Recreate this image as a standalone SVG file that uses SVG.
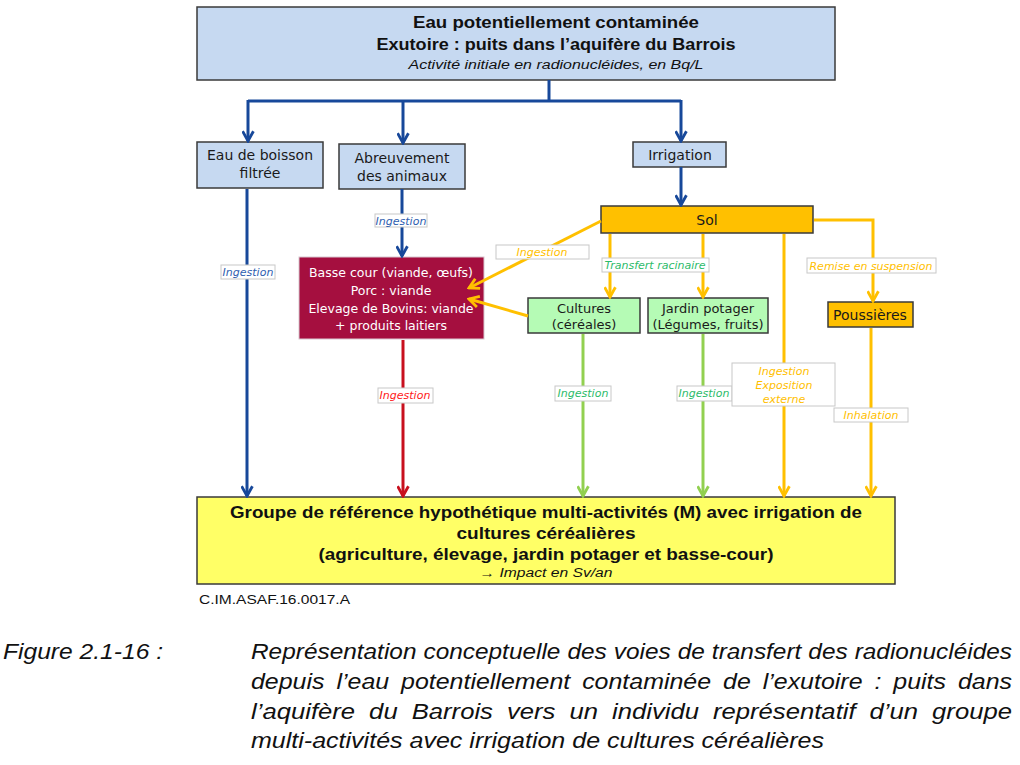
<svg xmlns="http://www.w3.org/2000/svg" width="1020" height="765" viewBox="0 0 1020 765">
<style>
.bg{fill:#ffffff}
.box{stroke:#3a3a3a;stroke-width:1.5}
.blue{fill:#c6d9f1}
.red{fill:#a50f3f}
.sol{fill:#ffc000}
.grn{fill:#b5fbb5}
.grp{fill:#ffff66}
.t{font-family:"DejaVu Sans",sans-serif;font-size:14px;fill:#1a1a1a;text-anchor:middle}
.tg{font-size:13px}
.tw{fill:#ffffff;font-size:12.5px}
.h{font-family:"Liberation Sans",sans-serif;font-weight:bold;font-size:16px;fill:#111;text-anchor:middle}
.hi{font-family:"Liberation Sans",sans-serif;font-style:italic;font-size:12px;fill:#111;text-anchor:middle}
.lb{fill:#ffffff;stroke:#c8c8c8;stroke-width:1}
.l{font-family:"DejaVu Sans",sans-serif;font-style:italic;font-size:11px;text-anchor:middle}
.cb{fill:#3060b0}.cy{fill:#ffc000}.cg{fill:#2dbb6a}.cr{fill:#ff2020}
.cap{font-family:"Liberation Sans",sans-serif;font-style:italic;font-size:22px;fill:#111}
.eb{fill:none;stroke:#17489a;stroke-width:3}
.er{fill:none;stroke:#c8101e;stroke-width:3}
.ey{fill:none;stroke:#ffc000;stroke-width:3}
.eg{fill:none;stroke:#92d050;stroke-width:3}
</style>
<defs>
<marker id="ab" viewBox="0 0 12 12" refX="10.5" refY="6" markerWidth="13" markerHeight="13" markerUnits="userSpaceOnUse" orient="auto"><path d="M1.5,1 L10.5,6 L1.5,11" fill="none" stroke="#17489a" stroke-width="2.6"/></marker>
<marker id="ar" viewBox="0 0 12 12" refX="10.5" refY="6" markerWidth="13" markerHeight="13" markerUnits="userSpaceOnUse" orient="auto"><path d="M1.5,1 L10.5,6 L1.5,11" fill="none" stroke="#c8101e" stroke-width="2.6"/></marker>
<marker id="ay" viewBox="0 0 12 12" refX="10.5" refY="6" markerWidth="13" markerHeight="13" markerUnits="userSpaceOnUse" orient="auto"><path d="M1.5,1 L10.5,6 L1.5,11" fill="none" stroke="#ffc000" stroke-width="2.6"/></marker>
<marker id="ag" viewBox="0 0 12 12" refX="10.5" refY="6" markerWidth="13" markerHeight="13" markerUnits="userSpaceOnUse" orient="auto"><path d="M1.5,1 L10.5,6 L1.5,11" fill="none" stroke="#92d050" stroke-width="2.6"/></marker>
</defs>
<rect class="bg" x="0" y="0" width="1020" height="765"/>

<g id="source">
<rect class="box blue" x="197" y="7" width="638" height="73"/>
<text class="h" x="556" y="28" textLength="286" lengthAdjust="spacingAndGlyphs">Eau potentiellement contaminée</text>
<text class="h" x="556" y="50" textLength="359" lengthAdjust="spacingAndGlyphs">Exutoire : puits dans l’aquifère du Barrois</text>
<text class="hi" x="556" y="69" textLength="295" lengthAdjust="spacingAndGlyphs">Activité initiale en radionucléides, en Bq/L</text>
</g>

<g id="eau-boisson">
<rect class="box blue" x="197" y="142" width="126" height="46"/>
<text class="t" x="260" y="160">Eau de boisson</text>
<text class="t" x="260" y="178">filtrée</text>
</g>

<g id="abreuvement">
<rect class="box blue" x="339" y="144" width="126" height="45"/>
<text class="t" x="402" y="163">Abreuvement</text>
<text class="t" x="402" y="181">des animaux</text>
</g>

<g id="irrigation">
<rect class="box blue" x="633" y="142" width="93" height="25"/>
<text class="t" x="680" y="160">Irrigation</text>
</g>

<g id="sol">
<rect class="box sol" x="601" y="206" width="212" height="27"/>
<text class="t" x="707" y="225">Sol</text>
</g>

<g id="basse-cour">
<rect x="299" y="257" width="185" height="82" class="red" stroke="#d8c8d0" stroke-width="1"/>
<text class="t tw" x="391" y="277">Basse cour (viande, œufs)</text>
<text class="t tw" x="391" y="295">Porc : viande</text>
<text class="t tw" x="391" y="313">Elevage de Bovins: viande</text>
<text class="t tw" x="391" y="330">+ produits laitiers</text>
</g>

<g id="cultures">
<rect class="box grn" x="528" y="298" width="112" height="35"/>
<text class="t tg" x="584" y="313">Cultures</text>
<text class="t tg" x="584" y="329">(céréales)</text>
</g>

<g id="jardin">
<rect class="box grn" x="648" y="298" width="120" height="35"/>
<text class="t tg" x="708" y="313">Jardin potager</text>
<text class="t tg" x="708" y="329">(Légumes, fruits)</text>
</g>

<g id="poussieres">
<rect class="box sol" x="828" y="302" width="85" height="25"/>
<text class="t" x="870" y="320" font-size="13.5">Poussières</text>
</g>

<g id="groupe">
<rect class="box grp" x="197" y="497" width="698" height="87"/>
<text class="h" x="546" y="518" font-size="17" textLength="632" lengthAdjust="spacingAndGlyphs">Groupe de référence hypothétique multi-activités (M) avec irrigation de</text>
<text class="h" x="546" y="539" font-size="17" textLength="179" lengthAdjust="spacingAndGlyphs">cultures céréalières</text>
<text class="h" x="546" y="560" font-size="17" textLength="455" lengthAdjust="spacingAndGlyphs">(agriculture, élevage, jardin potager et basse-cour)</text>
<text class="hi" x="546" y="577" font-size="13" textLength="133" lengthAdjust="spacingAndGlyphs">→ Impact en Sv/an</text>
</g>

<g id="connectors">
<path class="eb" d="M549,80 V101"/>
<path class="eb" d="M248,101 H681"/>
<path class="eb" d="M248,100 V141" marker-end="url(#ab)"/>
<path class="eb" d="M403,100 V143" marker-end="url(#ab)"/>
<path class="eb" d="M681,100 V141" marker-end="url(#ab)"/>
<path class="eb" d="M681,167 V205" marker-end="url(#ab)"/>
<path class="eb" d="M247,189 V496" marker-end="url(#ab)"/>
<path class="eb" d="M402,189 V256" marker-end="url(#ab)"/>
<path class="er" d="M403,340 V496" marker-end="url(#ar)"/>
<path class="ey" d="M601,221 L469,288" marker-end="url(#ay)"/>
<path class="ey" d="M528,316 L469,299" marker-end="url(#ay)"/>
<path class="ey" d="M610,234 V297" marker-end="url(#ay)"/>
<path class="ey" d="M703,234 V297" marker-end="url(#ay)"/>
<path class="ey" d="M784,234 V496" marker-end="url(#ay)"/>
<path class="ey" d="M814,220 H873 V301" marker-end="url(#ay)"/>
<path class="ey" d="M871,328 V496" marker-end="url(#ay)"/>
<path class="eg" d="M583,334 V496" marker-end="url(#ag)"/>
<path class="eg" d="M703,334 V496" marker-end="url(#ag)"/>
</g>

<g id="labels">
<rect class="lb" x="221" y="265" width="54" height="14"/><text class="l cb" x="248" y="276">Ingestion</text>
<rect class="lb" x="375" y="214" width="52" height="13"/><text class="l cb" x="401" y="225">Ingestion</text>
<rect class="lb" x="496" y="245" width="93" height="14"/><text class="l cy" x="542" y="256">Ingestion</text>
<rect class="lb" x="602" y="258" width="107" height="14"/><text class="l cg" x="655" y="269">Transfert racinaire</text>
<rect class="lb" x="807" y="258" width="129" height="15"/><text class="l cy" x="871" y="270">Remise en suspension</text>
<rect class="lb" x="378" y="388" width="55" height="15"/><text class="l cr" x="405" y="399">Ingestion</text>
<rect class="lb" x="555" y="386" width="56" height="15"/><text class="l cg" x="583" y="397">Ingestion</text>
<rect class="lb" x="677" y="386" width="55" height="15"/><text class="l cg" x="704" y="397">Ingestion</text>
<rect class="lb" x="732" y="363" width="103" height="43"/>
<text class="l cy" x="784" y="375">Ingestion</text>
<text class="l cy" x="784" y="389">Exposition</text>
<text class="l cy" x="784" y="403">externe</text>
<rect class="lb" x="834" y="408" width="74" height="14"/><text class="l cy" x="871" y="419">Inhalation</text>
</g>

<text x="199" y="604" font-family="Liberation Sans, sans-serif" font-size="12.5" fill="#111" textLength="151" lengthAdjust="spacingAndGlyphs">C.IM.ASAF.16.0017.A</text>

<g id="caption">
<text class="cap" x="3" y="659" textLength="160" lengthAdjust="spacingAndGlyphs">Figure 2.1-16 :</text>
<text class="cap" x="251" y="659" word-spacing="0.2" textLength="761" lengthAdjust="spacingAndGlyphs">Représentation conceptuelle des voies de transfert des radionucléides</text>
<text class="cap" x="251" y="689" word-spacing="4.4" textLength="761" lengthAdjust="spacingAndGlyphs">depuis l’eau potentiellement contaminée de l’exutoire : puits dans</text>
<text class="cap" x="251" y="719" word-spacing="5.9" textLength="761" lengthAdjust="spacingAndGlyphs">l’aquifère du Barrois vers un individu représentatif d’un groupe</text>
<text class="cap" x="251" y="748" textLength="573" lengthAdjust="spacingAndGlyphs">multi-activités avec irrigation de cultures céréalières</text>
</g>
</svg>
